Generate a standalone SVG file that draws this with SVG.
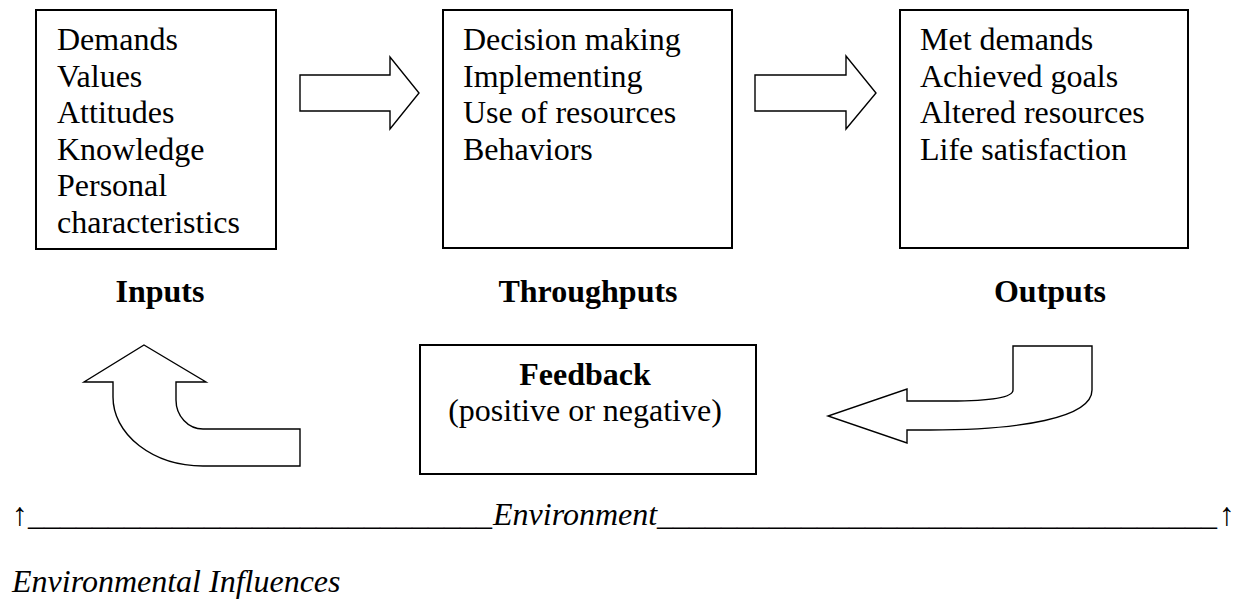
<svg xmlns="http://www.w3.org/2000/svg" width="1233" height="601" viewBox="0 0 1233 601">
<style>
.box{fill:#fff;stroke:#000;stroke-width:2}
.arr{fill:#fff;stroke:#000;stroke-width:1.4;stroke-linejoin:miter}
.t{font-family:"Liberation Serif","Times New Roman",serif;font-size:32px;fill:#000}
.b{font-weight:bold}
.i{font-style:italic}
</style>
<rect width="1233" height="601" fill="#fff"/>
<g id="inputs-box">
<rect class="box" x="36" y="10" width="240" height="239"/>
<text class="t"><tspan x="57" y="50">Demands</tspan><tspan x="57" y="86.6">Values</tspan><tspan x="57" y="123.2">Attitudes</tspan><tspan x="57" y="159.8">Knowledge</tspan><tspan x="57" y="196.4">Personal</tspan><tspan x="57" y="233">characteristics</tspan></text>
</g>
<g id="throughputs-box">
<rect class="box" x="443" y="10" width="289" height="238"/>
<text class="t"><tspan x="463" y="50">Decision making</tspan><tspan x="463" y="86.6">Implementing</tspan><tspan x="463" y="123.2">Use of resources</tspan><tspan x="463" y="159.8">Behaviors</tspan></text>
</g>
<g id="outputs-box">
<rect class="box" x="900" y="10" width="288" height="238"/>
<text class="t"><tspan x="920" y="50">Met demands</tspan><tspan x="920" y="86.6">Achieved goals</tspan><tspan x="920" y="123.2">Altered resources</tspan><tspan x="920" y="159.8">Life satisfaction</tspan></text>
</g>
<g id="labels">
<text class="t b" x="160" y="302" text-anchor="middle">Inputs</text>
<text class="t b" x="588" y="302" text-anchor="middle">Throughputs</text>
<text class="t b" x="1050" y="302" text-anchor="middle">Outputs</text>
</g>
<g id="feedback-box">
<rect class="box" x="420" y="345" width="336" height="129"/>
<text class="t b" x="585" y="385" text-anchor="middle">Feedback</text>
<text class="t" x="585" y="421" text-anchor="middle">(positive or negative)</text>
</g>
<g id="connectors">
<path class="arr" d="M300,75 L390,75 L390,57 L419,93 L390,129 L390,111 L300,111 Z"/>
<path class="arr" d="M755,75 L846,75 L846,56 L876,93 L846,129 L846,111 L755,111 Z"/>
<path class="arr" d="M1013,346 L1092,346 L1092,390 C1092,418 1020,430 930,430 L907,430 L907,443 L828,416 L907,389 L907,401 L950,401 C990,401 1013,398 1013,390 Z"/>
<path class="arr" d="M144,345 L206,382 L176,382 L176,400 A27,29 0 0 0 203,429 L300,429 L300,466 L203,466 A90,69 0 0 1 113,397 L113,382 L84,382 Z"/>
</g>
<g id="environment">
<text class="t" y="525"><tspan x="12">↑</tspan><tspan x="28" textLength="464" lengthAdjust="spacingAndGlyphs">_____________________________</tspan><tspan x="493" class="i" font-style="italic">Environment</tspan><tspan x="657" textLength="560" lengthAdjust="spacingAndGlyphs">___________________________________</tspan><tspan x="1219">↑</tspan></text>
<text class="t i" x="12" y="592">Environmental Influences</text>
</g>
</svg>
